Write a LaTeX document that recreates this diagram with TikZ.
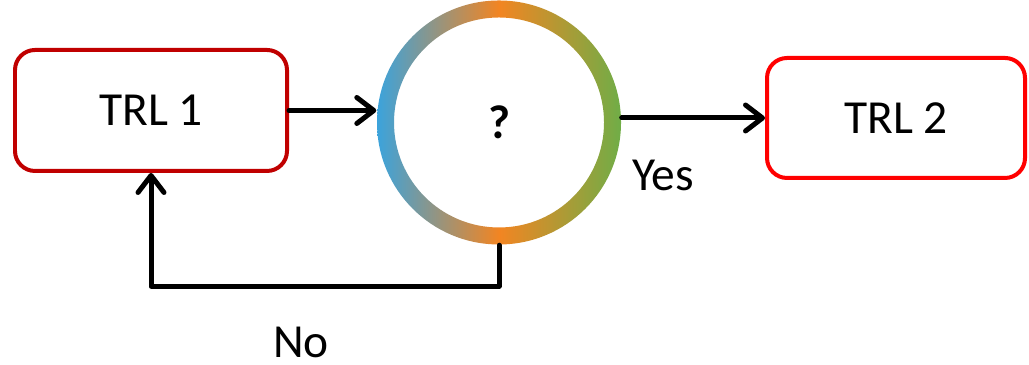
\documentclass[tikz,border=0pt]{standalone}
\usepackage{fontspec}
\setmainfont{Carlito}
\usetikzlibrary{calc,positioning,arrows.meta}

\definecolor{trlone}{HTML}{C00000}
\definecolor{trltwo}{HTML}{FF0000}
\definecolor{ringblue}{HTML}{3BA3DC}
\definecolor{ringorange}{HTML}{F28522}
\definecolor{ringgreen}{HTML}{70AD47}

\begin{document}
\begin{tikzpicture}
	\tikzstyle{level}=[draw, rounded corners=0.2cm, line width=0.04cm, text centered, font=\fontsize{13.5}{16}\selectfont]
	\tikzstyle{label}=[font=\fontsize{13.5}{16}\selectfont]
	\tikzstyle{flow}=[-{Straight Barb[length=0.17cm, width=0.26cm, round]}, line width=0.05cm, line cap=round, line join=round, draw=black]

	\useasboundingbox (0,0) rectangle (10.29,3.65);

	\node (t1) [level, draw=trlone, minimum width=2.72cm, minimum height=1.21cm] at (1.51,2.545) {TRL 1};
	\node (q) [circle, minimum size=2.44cm, inner sep=0pt, font=\fontsize{13.5}{16}\selectfont\bfseries] at (4.99,2.425) {?};
	\node (t2) [level, draw=trltwo, minimum width=2.58cm, minimum height=1.20cm] at (8.96,2.47) {TRL 2};

	% gradient ring round the question
	\shade[left color=ringblue, right color=ringgreen, middle color=ringorange, even odd rule]
		(q.center) circle (1.22cm) (q.center) circle (1.05cm);

	\node (yes) [label] at (6.63,1.90) {Yes};
	\node (no) [label] at (3.01,0.23) {No};

	\draw[flow] (t1.east) -- (t1.east -| q.west);
	\draw[flow] (q.east |- t2.west) -- (t2.west);
	\draw[flow] (q.south) -- ++(0,-0.41) -| (t1.south);

\end{tikzpicture}
\end{document}
